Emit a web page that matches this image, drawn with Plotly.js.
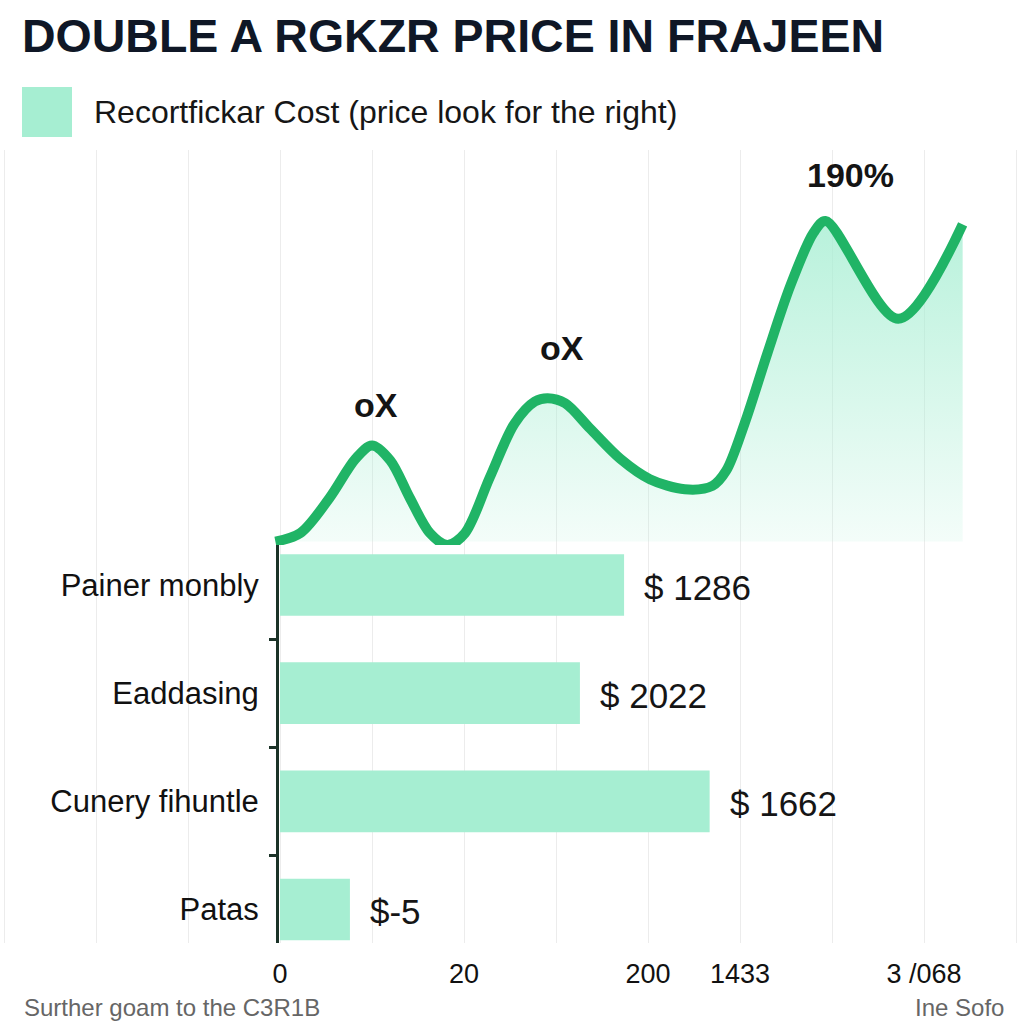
<!DOCTYPE html>
<html>
<head>
<meta charset="utf-8">
<script src="https://cdn.plot.ly/plotly-3.0.1.min.js"></script>
<style>html,body{margin:0;padding:0;background:#fff;}#chart{width:1024px;height:1024px;}</style>
</head>
<body>
<div id="chart"></div>
<script>
// ---- data ----
const titleText = "DOUBLE A RGKZR PRICE IN FRAJEEN";
const legendText = "Recortfickar Cost (price look for the right)";
const footerLeft = "Surther goam to the C3R1B";
const footerRight = "Ine Sofo";

const categories = ["Painer monbly", "Eaddasing", "Cunery fihuntle", "Patas"];
const barValues = [3.74, 3.26, 4.67, 0.76];
const barLabels = ["$ 1286", "$ 2022", "$ 1662", "$-5"];

const lineX = [-0.05, 0.22, 0.54, 0.82, 1.00, 1.20, 1.41, 1.63, 1.82, 2.01, 2.28, 2.55, 2.77, 2.91, 3.10, 3.37, 3.70, 4.02, 4.40, 4.70, 4.85, 5.05, 5.30, 5.55, 5.80, 5.93, 6.72, 7.42];
const lineY = [0, 5, 26, 49, 57, 48, 26, 5, -2, 5, 38, 70, 83, 85, 82, 67, 49, 37, 31, 33, 42, 70, 112, 152, 183, 190, 132, 188];

const peakNotes = [
  {x: 1.04, y: 81, text: "oX"},
  {x: 3.07, y: 115, text: "oX"},
  {x: 6.20, y: 217, text: "190%"}
];

const tickVals = [-3, -2, -1, 0, 1, 2, 3, 4, 5, 6, 7, 8];
const tickText = ["", "", "", "0", "", "20", "", "200", "1433", "", "3 /068", ""];

// ---- chart ----
const FONT = "Liberation Sans, Arial, sans-serif";
const barColor = "#a6eed2";
const lineColor = "#20b466";

const traces = [
  {
    type: "scatter", mode: "lines", x: lineX, y: lineY, xaxis: "x", yaxis: "y",
    line: {color: lineColor, width: 10, shape: "spline", smoothing: 0.9},
    fill: "tozeroy",
    fillgradient: {type: "vertical", colorscale: [[0, "rgba(166,238,210,0.12)"], [1, "rgba(166,238,210,0.8)"]]},
    showlegend: false, hoverinfo: "skip"
  },
  {
    type: "bar", orientation: "h", x: barValues, y: categories, xaxis: "x", yaxis: "y2",
    marker: {color: barColor}, width: 0.57, showlegend: false,
    name: legendText
  }
];

const annotations = [];
barValues.forEach((v, i) => {
  annotations.push({
    x: v, y: categories[i], xref: "x", yref: "y2", text: barLabels[i],
    showarrow: false, xanchor: "left", yanchor: "middle", xshift: 18, yshift: -2,
    font: {family: FONT, size: 35, color: "#151515"}
  });
});
peakNotes.forEach(p => {
  annotations.push({
    x: p.x, y: p.y, xref: "x", yref: "y", text: "<b>" + p.text + "</b>",
    showarrow: false, xanchor: "center", yanchor: "middle",
    font: {family: FONT, size: 34, color: "#141414"}
  });
});
annotations.push({
  x: 92/1024, y: 1 - 112/1024, xref: "paper", yref: "paper", text: legendText,
  showarrow: false, xanchor: "left", yanchor: "middle",
  font: {family: FONT, size: 32, color: "#161616"}
});
annotations.push({
  x: 22/1024, y: 1 - 1023/1024, xref: "paper", yref: "paper", text: footerLeft,
  showarrow: false, xanchor: "left", yanchor: "bottom",
  font: {family: FONT, size: 24, color: "#666"}
});
annotations.push({
  x: 1006/1024, y: 1 - 1023/1024, xref: "paper", yref: "paper", text: footerRight,
  showarrow: false, xanchor: "right", yanchor: "bottom",
  font: {family: FONT, size: 24, color: "#666"}
});

const layout = {
  width: 1024, height: 1024,
  margin: {l: 0, r: 0, t: 0, b: 0},
  paper_bgcolor: "#ffffff", plot_bgcolor: "rgba(0,0,0,0)",
  title: {
    text: "<b>" + titleText + "</b>", x: 22/1024, xanchor: "left", xref: "paper",
    y: 1 - 36/1024, yanchor: "middle", yref: "container",
    font: {family: FONT, size: 46.5, color: "#0f1726"}
  },
  xaxis: {
    domain: [0, 1], range: [-280/92, (1024-280)/92], anchor: "y2",
    tickmode: "array", tickvals: tickVals, ticktext: tickText,
    showgrid: true, gridcolor: "#ececec", gridwidth: 1,
    zeroline: false, showline: false, ticks: "",
    ticklabelstandoff: 12,
    tickfont: {family: FONT, size: 27, color: "#111"}
  },
  yaxis: {
    domain: [1 - 545/1024, 1 - 150/1024], range: [-2, 232], anchor: "x",
    visible: false, showgrid: false, zeroline: false
  },
  yaxis2: {
    domain: [1 - 943/1024, 1 - 545/1024], range: [3.31, -0.37],
    type: "category", categoryorder: "array", categoryarray: categories,
    anchor: "free", position: 277/1024,
    showline: true, linecolor: "#1b3328", linewidth: 3,
    ticks: "outside", tickson: "boundaries", ticklen: 7, tickwidth: 3, tickcolor: "#1b3328",
    ticklabelstandoff: 11,
    showgrid: false, zeroline: false,
    tickfont: {family: FONT, size: 31, color: "#111"}
  },
  shapes: [
    {type: "rect", xref: "paper", yref: "paper", x0: 22/1024, x1: 72/1024, y0: 1 - 137/1024, y1: 1 - 87/1024,
     fillcolor: barColor, line: {width: 0}}
  ],
  annotations: annotations,
  bargap: 0.43
};

Plotly.newPlot("chart", traces, layout, {displayModeBar: false, staticPlot: true});
</script>
</body>
</html>
